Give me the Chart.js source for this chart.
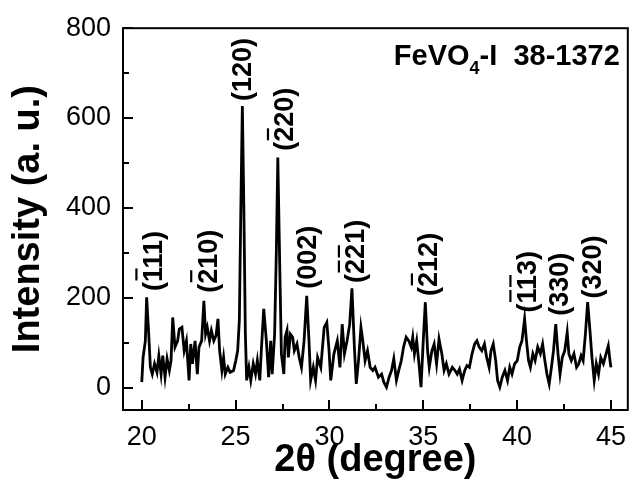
<!DOCTYPE html>
<html>
<head>
<meta charset="utf-8">
<script src="https://cdn.jsdelivr.net/npm/chart.js@4/dist/chart.umd.min.js"></script>
<style>
  html, body { margin: 0; padding: 0; background: #fff; }
  canvas { display: block; }
</style>
</head>
<body>
<canvas id="xrd" width="637" height="483"></canvas>
<script>
// 2θ positions (degree) and measured intensity (a. u.)
const twoTheta = [
    20.00, 20.07, 20.19, 20.26, 20.37, 20.46, 20.56, 20.68, 20.81, 20.91,
    21.03, 21.12, 21.24, 21.35, 21.47, 21.56, 21.65, 21.77, 21.91, 22.00,
    22.14, 22.26, 22.38, 22.52, 22.61, 22.70, 22.84, 22.96, 23.05, 23.19,
    23.31, 23.40, 23.49, 23.61, 23.71, 23.84, 23.96, 24.06, 24.15, 24.27,
    24.36, 24.45, 24.59, 24.71, 24.89, 25.01, 25.11, 25.20, 25.28, 25.36,
    25.44, 25.52, 25.59, 25.71, 25.81, 25.94, 26.06, 26.16, 26.29, 26.37,
    26.50, 26.64, 26.76, 26.87, 26.95, 27.08, 27.17, 27.25, 27.34, 27.44,
    27.57, 27.64, 27.74, 27.81, 27.92, 28.04, 28.13, 28.27, 28.39, 28.51,
    28.65, 28.79, 28.91, 29.00, 29.14, 29.26, 29.37, 29.54, 29.72, 29.86,
    29.98, 30.07, 30.24, 30.42, 30.56, 30.68, 30.80, 30.94, 31.08, 31.20,
    31.33, 31.43, 31.55, 31.68, 31.78, 31.90, 32.03, 32.17, 32.31, 32.43,
    32.61, 32.78, 32.90, 33.04, 33.18, 33.31, 33.43, 33.57, 33.71, 33.83,
    33.95, 34.09, 34.23, 34.36, 34.44, 34.53, 34.65, 34.79, 34.88, 35.00,
    35.11, 35.23, 35.32, 35.46, 35.58, 35.71, 35.84, 35.99, 36.11, 36.23,
    36.37, 36.55, 36.69, 36.81, 36.93, 37.07, 37.21, 37.33, 37.46, 37.60,
    37.74, 37.86, 37.98, 38.12, 38.26, 38.38, 38.51, 38.61, 38.73, 38.86,
    38.96, 39.08, 39.21, 39.35, 39.49, 39.61, 39.73, 39.87, 40.01, 40.14,
    40.26, 40.40, 40.50, 40.61, 40.71, 40.84, 40.96, 41.10, 41.24, 41.36,
    41.48, 41.59, 41.71, 41.83, 41.94, 42.06, 42.18, 42.29, 42.41, 42.54,
    42.67, 42.76, 42.89, 43.03, 43.17, 43.29, 43.41, 43.52, 43.64, 43.76,
    43.87, 43.99, 44.11, 44.22, 44.34, 44.46, 44.60, 44.74, 44.86, 44.95,
    45.00
];
const intensity = [
     12,  67, 104, 201, 119,  45,  30,  53,  34,  71,
     30,  71,  23,  64,  38,  60, 156,  90, 104, 130,
    134,  82, 104,  16,  97,  53, 104,  30,  90, 104,
    193, 119, 134, 104, 127, 104, 116, 153,  82,  38,
     67,  30,  45,  34,  38,  60,  82, 150, 400, 627,
    400, 120,  16,  45,  16,  53,  30,  60,  16,  82,
    175, 104,  23, 104,  30, 119, 300, 512, 300,  75,
     30, 112, 127,  67, 119, 112,  82,  97,  67,  45,
    104, 204, 104,  16,  45,  16,  67,  45, 134, 145,
     82,  16,  75, 104,  45, 141,  75, 104, 141, 221,
     90,   8,  60, 134, 104,  60,  82,  45,  38,  45,
     23,  30,  12,   1,  23,  38,  64,  16,  41,  60,
     90, 112, 104,  90, 112,  75, 104,  45,   1, 104,
    190,  82,  45,  82,  97,  53, 108,  75,  38,  53,
     30,  45,  38,  30,  41,  16,  38,  49,  45,  75,
     97, 104,  90,  82,  97,  67,  45,  82,  97,  60,
     16,   1,  23,  38,  16,  45,  30,  53,  60,  90,
    104, 153, 104,  60,  45,  75,  60,  90,  75,  97,
     60,  30,   8,  45,  82, 141,  75,  30,  67,  82,
    123,  75,  60,  75,  45,  53,  71,  60, 119, 190,
    134,  67,  16,  53,  30,  67,  53,  75,  93,  60,
     45
];

// axis ticks
const xTicks = [20, 25, 30, 35, 40, 45];
const yTicks = [0, 200, 400, 600, 800];

// peak indexing (hkl); barIdx = characters that carry an overbar
const hkl      = ['(111)', '(210)', '(120)', '(220)', '(002)', '(221)', '(212)', '(113)', '(330)', '(320)'];
const barIdx   = [[1],     [1],     [],      [1],     [],      [1, 2],  [1],     [1, 2],  [],      []];
const hklTheta = [20.55,   23.47,   25.30,   27.56,   28.75,   31.34,   35.23,   40.48,   42.22,   43.95];
const hklBase  = [215,     211,     638,     527,     220,     233,     204,     167,     160,     198];

const FONT = "'Liberation Sans', Arial, sans-serif";

const framePlugin = {
    id: 'frame',
    afterDraw(chart) {
        const ctx = chart.ctx;
        const a = chart.chartArea;
        const xs = chart.scales.x, ys = chart.scales.y;
        ctx.save();
        ctx.strokeStyle = '#000';
        ctx.lineWidth = 2;
        ctx.strokeRect(a.left, a.top, a.right - a.left, a.bottom - a.top);

        // inward ticks, major + minor halfway
        ctx.beginPath();
        for (let i = 0; i < xTicks.length; i++) {
            const px = Math.round(xs.getPixelForValue(xTicks[i]));
            ctx.moveTo(px, a.bottom); ctx.lineTo(px, a.bottom - 10);
            if (i < xTicks.length - 1) {
                const mx = Math.round(xs.getPixelForValue((xTicks[i] + xTicks[i + 1]) / 2));
                ctx.moveTo(mx, a.bottom); ctx.lineTo(mx, a.bottom - 6);
            }
        }
        for (let i = 0; i < yTicks.length; i++) {
            const py = Math.round(ys.getPixelForValue(yTicks[i]));
            ctx.moveTo(a.left, py); ctx.lineTo(a.left + 10, py);
            if (i < yTicks.length - 1) {
                const my = Math.round(ys.getPixelForValue((yTicks[i] + yTicks[i + 1]) / 2));
                ctx.moveTo(a.left, my); ctx.lineTo(a.left + 6, my);
            }
        }
        ctx.stroke();

        // vertical hkl labels above the peaks
        const size = 27;
        ctx.font = 'bold ' + size + 'px ' + FONT;
        ctx.fillStyle = '#000';
        ctx.textAlign = 'left';
        ctx.textBaseline = 'alphabetic';
        const cap = size * 0.716;
        for (let i = 0; i < hkl.length; i++) {
            const px = xs.getPixelForValue(hklTheta[i]);
            const py = ys.getPixelForValue(hklBase[i]);
            ctx.save();
            ctx.translate(px, py);
            ctx.rotate(-Math.PI / 2);
            ctx.fillText(hkl[i], 0, cap / 2);
            ctx.lineWidth = 2.2;
            ctx.beginPath();
            barIdx[i].forEach(k => {
                const x0 = ctx.measureText(hkl[i].slice(0, k)).width;
                const w = ctx.measureText(hkl[i][k]).width;
                ctx.moveTo(x0 + 1.5, -cap / 2 - 6);
                ctx.lineTo(x0 + w - 1.5, -cap / 2 - 6);
            });
            ctx.stroke();
            ctx.restore();
        }

        // sample name and PDF card, top right
        const big = 'bold 29px ' + FONT, small = 'bold 18px ' + FONT;
        const p1 = 'FeVO', p2 = '4', p3 = '-I  38-1372';
        ctx.font = big;
        const w1 = ctx.measureText(p1).width, w3 = ctx.measureText(p3).width;
        ctx.font = small;
        const w2 = ctx.measureText(p2).width;
        let x = a.right - 8 - (w1 + w2 + w3);
        const base = a.top + 37;
        ctx.font = big;
        ctx.fillText(p1, x, base); x += w1;
        ctx.font = small;
        ctx.fillText(p2, x, base + 9); x += w2;
        ctx.font = big;
        ctx.fillText(p3, x, base);
        ctx.restore();
    }
};

new Chart(document.getElementById('xrd'), {
    type: 'line',
    data: {
        datasets: [{
            data: twoTheta.map((t, i) => ({ x: t, y: intensity[i] })),
            borderColor: '#000',
            borderWidth: 2.8,
            borderJoinStyle: 'miter',
            pointRadius: 0,
            tension: 0,
            fill: false
        }]
    },
    options: {
        responsive: false,
        animation: false,
        devicePixelRatio: 1,
        layout: { padding: { top: 26, right: 2, left: 0, bottom: 0 } },
        plugins: { legend: { display: false }, tooltip: { enabled: false } },
        scales: {
            x: {
                type: 'linear',
                min: 19,
                max: 45.9,
                afterBuildTicks: s => { s.ticks = xTicks.map(v => ({ value: v })); },
                afterFit: s => { s.height = 73; },
                grid: { display: false, drawTicks: false },
                border: { display: false },
                ticks: { color: '#000', padding: 11, maxRotation: 0, autoSkip: false,
                         font: { family: FONT, size: 27 } },
                title: { display: true, text: '2θ (degree)', color: '#000',
                         font: { family: FONT, size: 38, weight: 'bold', lineHeight: 1 },
                         padding: { top: 0, bottom: 3 } }
            },
            y: {
                min: -50,
                max: 800,
                afterBuildTicks: s => { s.ticks = yTicks.map(v => ({ value: v })); },
                afterFit: s => { s.width = 123; },
                grid: { display: false, drawTicks: false },
                border: { display: false },
                ticks: { color: '#000', padding: 12, font: { family: FONT, size: 27 } },
                title: { display: true, text: 'Intensity (a. u.)', color: '#000',
                         font: { family: FONT, size: 38, weight: 'bold', lineHeight: 1 },
                         padding: { top: 10, bottom: 0 } }
            }
        }
    },
    plugins: [framePlugin]
});
</script>
</body>
</html>
